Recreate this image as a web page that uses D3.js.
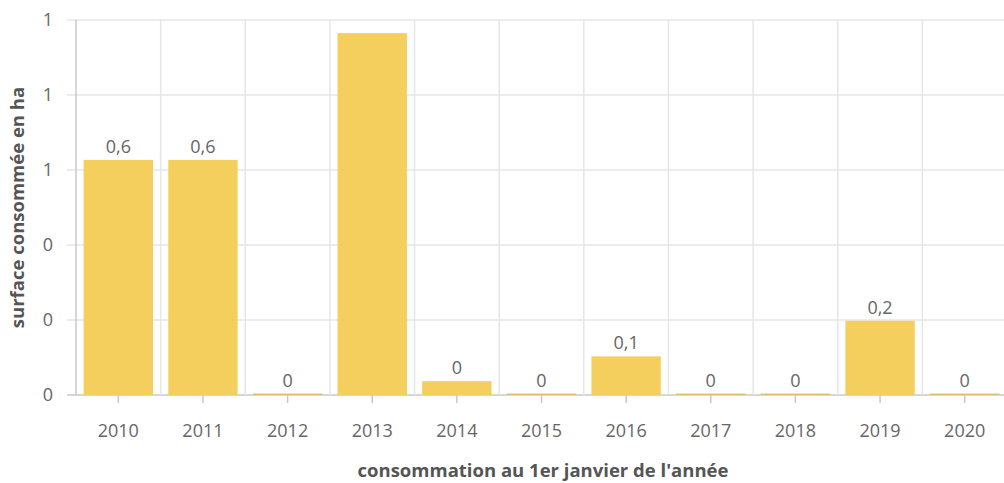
<!DOCTYPE html>
<html><head><meta charset="utf-8">
<script src="https://cdn.jsdelivr.net/npm/d3@7"></script>
<style>
body{margin:0;background:#fff;}
text{font-family:"Open Sans",sans-serif;}
</style></head>
<body><svg id="c" width="1004" height="483"></svg>
<script>
const years = ["2010","2011","2012","2013","2014","2015","2016","2017","2018","2019","2020"];
const values = [0.627,0.627,0.004,0.965,0.037,0.004,0.103,0.004,0.004,0.198,0.004];
const yTicks = [0,0.2,0.4,0.6,0.8,1.0];
const yTitle = "surface consommée en ha";
const xTitle = "consommation au 1er janvier de l'année";

const svg = d3.select("#c");
const m = {left:76, right:-3, top:20, bottom:88};
const W = 1004, H = 483;
const x = d3.scaleBand().domain(years).range([m.left, W - m.right]).paddingInner(0.18).paddingOuter(0.09);
const xb = d3.scaleBand().domain(years).range([m.left, W - m.right]);
const y = d3.scaleLinear().domain([0,1]).range([H - m.bottom, m.top]);

// horizontal grid
svg.append("g").selectAll("line").data(yTicks).join("line")
  .attr("x1", m.left - 9).attr("x2", W).attr("y1", d=>y(d)).attr("y2", d=>y(d))
  .attr("stroke", d=> d===0 ? "#c8c8c8" : "#e6e6e6").attr("stroke-width", 1.5);
// vertical grid at band boundaries
svg.append("g").selectAll("line").data(years.slice(1)).join("line")
  .attr("x1", d=>xb(d)).attr("x2", d=>xb(d)).attr("y1", y(1)).attr("y2", y(0))
  .attr("stroke", "#e6e6e6").attr("stroke-width", 1.5);
// y axis line
svg.append("line").attr("x1", m.left).attr("x2", m.left).attr("y1", y(1)).attr("y2", y(0))
  .attr("stroke","#c8c8c8").attr("stroke-width",1.5);

// y tick labels
svg.append("g").selectAll("text").data(yTicks).join("text")
  .attr("x", 53).attr("y", d=>y(d)).attr("dy","0.35em").attr("text-anchor","end")
  .attr("font-size",18).attr("fill","#666").text(d=>d3.format(".0f")(d));

// bars
svg.append("g").selectAll("rect").data(values).join("rect")
  .attr("x",(d,i)=>x(years[i])).attr("width",x.bandwidth())
  .attr("y",d=>y(d)).attr("height",d=>y(0)-y(d))
  .attr("fill", d=> d<0.01 ? "#e0c26e" : "#f5cf5d");

// x ticks
svg.append("g").selectAll("line").data(years).join("line")
  .attr("x1",d=>xb(d)+xb.bandwidth()/2).attr("x2",d=>xb(d)+xb.bandwidth()/2)
  .attr("y1",y(0)).attr("y2",y(0)+8).attr("stroke","#c8c8c8").attr("stroke-width",1.5);
svg.append("g").selectAll("text").data(years).join("text")
  .attr("x",d=>xb(d)+xb.bandwidth()/2).attr("y",y(0)+42).attr("text-anchor","middle")
  .attr("font-size",18).attr("fill","#666").text(d=>d);

// value labels
const fmt = v => { const r = Math.round(v*10)/10; return r===0 ? "0" : String(r).replace(".",","); };
svg.append("g").selectAll("text").data(values.map((v,i)=>({v,i})).filter(d=>y(d.v)-24 > m.top)).join("text")
  .attr("x",d=>x(years[d.i])+x.bandwidth()/2).attr("y",d=>y(d.v)-7).attr("text-anchor","middle")
  .attr("font-size",18).attr("fill","#666").text(d=>fmt(d.v));

// axis titles
svg.append("text").attr("x",543).attr("y",477).attr("text-anchor","middle")
  .attr("font-size",18.5).attr("font-weight","bold").attr("fill","#555").text(xTitle);
svg.append("text").attr("transform",`translate(24,${(y(0)+y(1))/2}) rotate(-90)`).attr("text-anchor","middle")
  .attr("font-size",18.5).attr("font-weight","bold").attr("fill","#555").text(yTitle);
</script></body></html>
